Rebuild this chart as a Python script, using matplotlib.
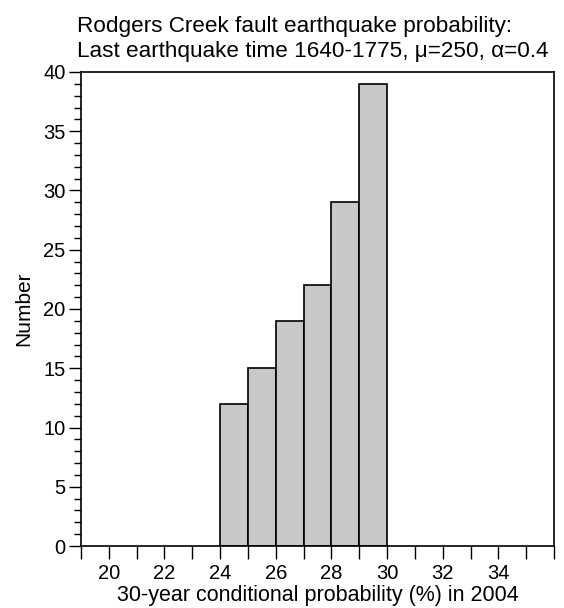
import matplotlib
matplotlib.use("Agg")
import matplotlib.pyplot as plt
from matplotlib.ticker import MultipleLocator, FixedLocator

plt.rcParams['font.family'] = ['Liberation Sans', 'DejaVu Sans']

bin_left = [24, 25, 26, 27, 28, 29]
counts = [12, 15, 19, 22, 29, 39]
xticks = [20, 22, 24, 26, 28, 30, 32, 34]
yticks = [0, 5, 10, 15, 20, 25, 30, 35, 40]

fig = plt.figure(figsize=(5.64, 6.08), dpi=100)
ax = fig.add_axes([81/564, 1-546/608, (554-81)/564, (546-72)/608])

ax.bar(bin_left, counts, width=1.0, align='edge', color='#c8c8c8',
       edgecolor='black', linewidth=1.2)

ax.set_xlim(19, 36)
ax.set_ylim(0, 40)
ax.xaxis.set_major_locator(FixedLocator(xticks))
ax.xaxis.set_minor_locator(MultipleLocator(1))
ax.yaxis.set_major_locator(FixedLocator(yticks))
ax.yaxis.set_minor_locator(MultipleLocator(1))
ax.tick_params(axis='both', which='both', direction='out', top=False, right=False,
               labelsize=14.5, width=1.0, color='black')
ax.tick_params(axis='x', which='both', length=9, pad=4)
ax.tick_params(axis='y', which='major', length=9, pad=2)
ax.tick_params(axis='y', which='minor', length=5)
for s in ax.spines.values():
    s.set_linewidth(1.2)

ax.set_xlabel('30-year conditional probability (%) in 2004', fontsize=15.5)
ax.xaxis.set_label_coords(0.5, -0.0823)
ax.set_ylabel('Number', fontsize=15)
ax.yaxis.set_label_coords(-0.1015, 0.5)

fig.text(77/564, 1-32/608, 'Rodgers Creek fault earthquake probability:', fontsize=16.2,
         ha='left', va='baseline')
fig.text(77/564, 1-57/608, 'Last earthquake time 1640-1775, \u03bc=250, \u03b1=0.4', fontsize=16.2,
         ha='left', va='baseline')

fig.savefig('out.png', dpi=100)
